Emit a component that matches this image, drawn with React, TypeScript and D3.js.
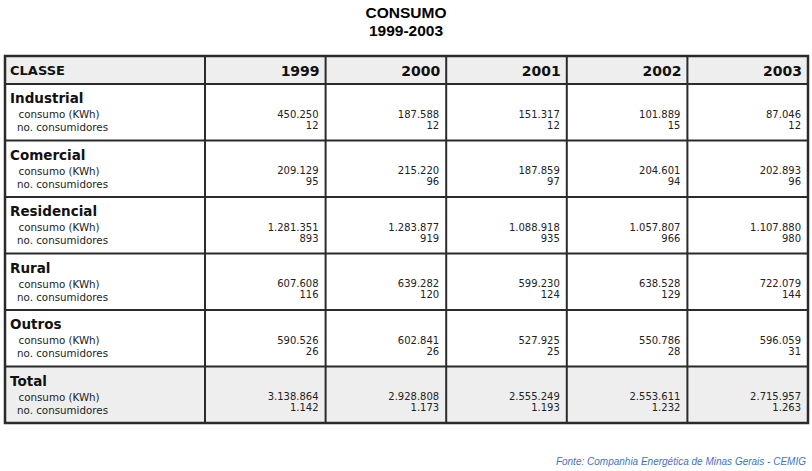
import React from "react";
import * as d3 from "d3";

const title = "CONSUMO";
const subtitle = "1999-2003";
const years = ["1999", "2000", "2001", "2002", "2003"];
const categories = ["Industrial", "Comercial", "Residencial", "Rural", "Outros", "Total"];
const consumoIndustrial = [450250, 187588, 151317, 101889, 87046];
const consumoComercial = [209129, 215220, 187859, 204601, 202893];
const consumoResidencial = [1281351, 1283877, 1088918, 1057807, 1107880];
const consumoRural = [607608, 639282, 599230, 638528, 722079];
const consumoOutros = [590526, 602841, 527925, 550786, 596059];
const consumoTotal = [3138864, 2928808, 2555249, 2553611, 2715957];
const consumidoresIndustrial = [12, 12, 12, 15, 12];
const consumidoresComercial = [95, 96, 97, 94, 96];
const consumidoresResidencial = [893, 919, 935, 966, 980];
const consumidoresRural = [116, 120, 124, 129, 144];
const consumidoresOutros = [26, 26, 25, 28, 31];
const consumidoresTotal = [1142, 1173, 1193, 1232, 1263];
const headerLabel = "CLASSE";
const subLabel1 = "consumo (KWh)";
const subLabel2 = "no. consumidores";
const source = "Fonte: Companhia Energética de Minas Gerais - CEMIG";

const consumo = [consumoIndustrial, consumoComercial, consumoResidencial, consumoRural, consumoOutros, consumoTotal];
const consumidores = [consumidoresIndustrial, consumidoresComercial, consumidoresResidencial, consumidoresRural, consumidoresOutros, consumidoresTotal];

const locale = d3.formatLocale({ decimal: ",", thousands: ".", grouping: [3], currency: ["R$", ""] });
const fmt = locale.format(",d");

export default function App() {
  const W = 812, H = 471;
  const left = 5, right = 808, firstColRight = 205;
  const top = 56, headerH = 28;
  const bottom = 423;
  const x = d3.scaleBand<string>().domain(years).range([firstColRight, right]).padding(0);
  const y = d3.scaleBand<string>().domain(categories).range([top + headerH, bottom]).padding(0);
  const font = "'DejaVu Sans', Verdana, sans-serif";
  const lineColor = "#2b2b2b";
  const gray = "#eeeeee";
  const pad = 7;
  const totalCat = categories[categories.length - 1];

  return (
    <svg width={W} height={H} style={{ position: "absolute", left: 0, top: 0, background: "#fff" }}>
      <text x={W / 2} y={17.5} textAnchor="middle" fontFamily="'Liberation Sans', Arial, sans-serif" fontWeight="bold" fontSize={15.5} fill="#000">{title}</text>
      <text x={W / 2} y={35.5} textAnchor="middle" fontFamily="'Liberation Sans', Arial, sans-serif" fontWeight="bold" fontSize={15.5} fill="#000">{subtitle}</text>

      <rect x={left} y={top} width={right - left} height={headerH} fill={gray} />
      <rect x={left} y={y(totalCat)!} width={right - left} height={y.bandwidth()} fill={gray} />

      <text x={10} y={75} fontFamily={font} fontWeight="bold" fontSize={13} fill="#111">{headerLabel}</text>
      {years.map((yr) => (
        <text key={yr} x={x(yr)! + x.bandwidth() - pad + 1} y={75.5} textAnchor="end" fontFamily={font} fontWeight="bold" fontSize={14} fill="#111">{yr}</text>
      ))}

      {categories.map((cat, i) => {
        const y0 = y(cat)!;
        return (
          <g key={cat}>
            <text x={10} y={y0 + 19} fontFamily={font} fontWeight="bold" fontSize={13.5} fill="#111">{cat}</text>
            <text x={18.5} y={y0 + 34} fontFamily={font} fontSize={10.3} fill="#222">{subLabel1}</text>
            <text x={17} y={y0 + 47} fontFamily={font} fontSize={10.3} fill="#222">{subLabel2}</text>
            {years.map((yr, j) => (
              <g key={yr}>
                <text x={x(yr)! + x.bandwidth() - pad} y={y0 + 33.5} textAnchor="end" fontFamily={font} fontSize={10} fill="#222">{fmt(consumo[i][j])}</text>
                <text x={x(yr)! + x.bandwidth() - pad} y={y0 + 44.5} textAnchor="end" fontFamily={font} fontSize={10} fill="#222">{fmt(consumidores[i][j])}</text>
              </g>
            ))}
          </g>
        );
      })}

      {categories.map((cat) => (
        <line key={cat} x1={left} x2={right} y1={y(cat)!} y2={y(cat)!} stroke={lineColor} strokeWidth={2} />
      ))}
      {years.map((yr) => (
        <line key={yr} x1={x(yr)!} x2={x(yr)!} y1={top} y2={bottom} stroke={lineColor} strokeWidth={2} />
      ))}
      <rect x={left} y={top} width={right - left} height={bottom - top} fill="none" stroke={lineColor} strokeWidth={2.5} />

      <text x={806} y={465} textAnchor="end" fontFamily="'Liberation Sans', Arial, sans-serif" fontStyle="italic" fontSize={10} fill="#3f72cf">{source}</text>
    </svg>
  );
}
